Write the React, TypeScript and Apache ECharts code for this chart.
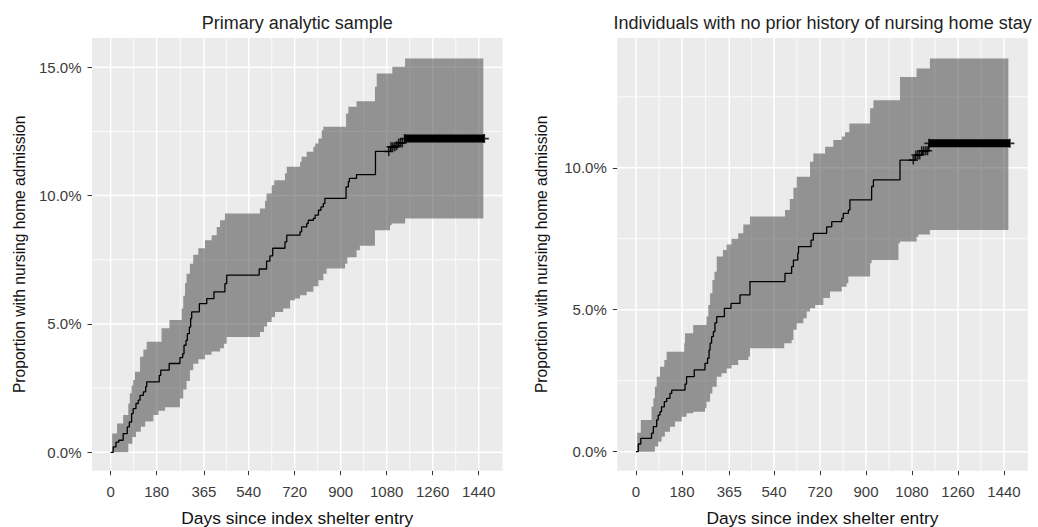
import React, { useEffect, useRef } from 'react';
import * as echarts from 'echarts';

// ---------- text ----------
const TITLES = ['Primary analytic sample', 'Individuals with no prior history of nursing home stay'];
const X_TITLE = 'Days since index shelter entry';
const Y_TITLE = 'Proportion with nursing home admission';

// ---------- ticks ----------
const X_TICKS = [0, 180, 365, 540, 720, 900, 1080, 1260, 1440];
const X_MINOR = [90, 272.5, 452.5, 630, 810, 990, 1170, 1350];
const Y_TICKS_LEFT = [0, 5, 10, 15];
const Y_MINOR_LEFT = [2.5, 7.5, 12.5];
const Y_TICKS_RIGHT = [0, 5, 10];
const Y_MINOR_RIGHT = [2.5, 7.5, 12.5];

// ---------- data: [day, percent] step points ----------
const LEFT_KM = [
  [0, 0], [10, 0.21], [21, 0.4], [32, 0.47], [49, 0.73], [65, 0.99], [73, 1.18], [82, 1.51], [88, 1.7],
  [99, 1.9], [108, 2.03], [115, 2.22], [128, 2.35], [137, 2.55], [141, 2.74], [190, 3.0], [196, 3.2],
  [229, 3.46], [271, 3.69], [282, 3.84], [287, 4.17], [295, 4.36], [300, 4.62], [308, 4.88], [313, 5.21],
  [317, 5.47], [347, 5.79], [376, 5.99], [404, 6.25], [447, 6.57], [454, 6.9], [581, 7.14], [610, 7.45],
  [623, 7.65], [634, 7.95], [682, 8.2], [689, 8.46], [741, 8.59], [747, 8.78], [767, 8.91], [773, 9.04],
  [793, 9.11], [800, 9.24], [813, 9.43], [823, 9.56], [832, 9.69], [838, 9.89], [921, 10.34], [930, 10.54],
  [934, 10.67], [962, 10.82], [1036, 11.72], [1095, 11.9], [1125, 12.05], [1150, 12.22], [1462, 12.22],
];
const LEFT_UPPER = [
  [0, 0], [6, 0.73], [25, 1.12], [49, 1.45], [69, 1.9], [75, 2.3], [82, 2.6], [88, 2.82], [95, 3.14],
  [115, 3.72], [128, 4.0], [141, 4.31], [199, 4.83], [230, 5.15], [278, 5.6], [284, 6.1], [291, 6.6],
  [297, 6.96], [310, 7.35], [323, 7.7], [343, 7.95], [369, 8.26], [395, 8.46], [415, 8.78], [428, 9.04],
  [447, 9.3], [584, 9.5], [604, 9.8], [610, 10.08], [630, 10.4], [640, 10.6], [682, 10.86], [689, 11.12],
  [741, 11.32], [747, 11.51], [767, 11.71], [793, 11.9], [800, 12.03], [813, 12.22], [826, 12.55],
  [832, 12.68], [921, 13.2], [930, 13.46], [962, 13.68], [1034, 14.24], [1041, 14.76], [1102, 15.02],
  [1152, 15.34], [1458, 15.34],
];
const LEFT_LOWER = [
  [0, 0], [69, 0.33], [85, 0.6], [99, 0.8], [118, 1.0], [135, 1.2], [167, 1.45], [187, 1.62], [213, 1.75],
  [271, 2.1], [284, 2.45], [297, 2.78], [310, 3.2], [323, 3.45], [343, 3.62], [369, 3.8], [395, 3.93],
  [428, 4.05], [443, 4.23], [454, 4.49], [584, 4.69], [600, 4.9], [612, 5.08], [630, 5.27], [643, 5.47],
  [675, 5.6], [702, 5.92], [721, 5.99], [741, 6.12], [767, 6.25], [793, 6.47], [813, 6.7], [832, 6.96],
  [845, 7.16], [917, 7.35], [926, 7.6], [962, 7.87], [975, 8.05], [1034, 8.65], [1093, 8.85], [1099, 8.91],
  [1152, 9.11], [1458, 9.11],
];
const LEFT_CENSOR = [
  [1088, 11.72], [1097, 11.9], [1104, 11.9], [1112, 11.9], [1119, 11.95], [1127, 12.05], [1134, 12.05],
  [1141, 12.05], [1150, 12.22], [1462, 12.22],
];
const LEFT_DENSE_CENSOR = [[1150, 12.22], [1462, 12.22]];

const RIGHT_KM = [
  [0, 0], [9, 0.27], [19, 0.47], [61, 0.65], [68, 0.88], [81, 1.12], [87, 1.29], [94, 1.41], [100, 1.58],
  [111, 1.76], [120, 1.88], [133, 2.05], [140, 2.17], [192, 2.38], [198, 2.64], [228, 2.88], [270, 3.11],
  [280, 3.29], [286, 3.58], [290, 3.82], [296, 4.05], [303, 4.23], [309, 4.54], [316, 4.76], [346, 5.05],
  [372, 5.22], [407, 5.52], [446, 5.99], [583, 6.28], [609, 6.52], [616, 6.75], [633, 6.99], [636, 7.22],
  [685, 7.45], [694, 7.69], [746, 7.92], [766, 8.1], [805, 8.22], [811, 8.39], [831, 8.51], [837, 8.87],
  [922, 9.34], [929, 9.57], [1033, 10.27], [1092, 10.45], [1120, 10.6], [1146, 10.86], [1463, 10.86],
];
const RIGHT_UPPER = [
  [0, 0], [5, 0.67], [19, 1.12], [61, 1.58], [68, 1.88], [74, 2.29], [81, 2.64], [94, 2.99], [111, 3.23],
  [120, 3.52], [189, 3.82], [192, 4.17], [224, 4.46], [276, 4.76], [283, 5.17], [290, 5.58], [299, 6.05],
  [307, 6.34], [316, 6.87], [340, 7.1], [355, 7.3], [374, 7.5], [400, 7.69], [420, 8.0], [446, 8.28],
  [583, 8.51], [602, 8.9], [616, 9.3], [629, 9.68], [681, 10.21], [694, 10.5], [740, 10.74], [772, 10.98],
  [805, 11.1], [818, 11.25], [835, 11.56], [916, 12.1], [929, 12.38], [1033, 13.2], [1098, 13.5],
  [1150, 13.85], [1457, 13.85],
];
const RIGHT_LOWER = [
  [0, 0], [74, 0.18], [87, 0.35], [100, 0.53], [113, 0.7], [133, 0.88], [153, 1.06], [179, 1.23],
  [198, 1.35], [224, 1.41], [270, 1.53], [276, 1.76], [290, 2.05], [299, 2.29], [316, 2.64], [335, 2.76],
  [355, 2.93], [374, 3.05], [400, 3.23], [440, 3.35], [446, 3.64], [580, 3.82], [609, 3.93], [616, 4.29],
  [629, 4.52], [655, 4.7], [668, 4.94], [681, 5.05], [701, 5.17], [733, 5.41], [759, 5.64], [805, 5.81],
  [824, 5.93], [831, 6.17], [916, 6.64], [922, 6.75], [1027, 7.34], [1033, 7.4], [1098, 7.57], [1105, 7.65],
  [1150, 7.81], [1457, 7.81],
];
const RIGHT_CENSOR = [
  [1085, 10.27], [1095, 10.45], [1103, 10.45], [1110, 10.45], [1118, 10.6], [1126, 10.6], [1134, 10.6],
  [1141, 10.6], [1146, 10.86], [1463, 10.86],
];
const RIGHT_DENSE_CENSOR = [[1146, 10.86], [1463, 10.86]];

// ---------- styling / layout ----------
const FONT = '"Liberation Sans", Arial, sans-serif';
const PANEL_BG = '#EBEBEB';
const BAND_COLOR = 'rgba(66,66,66,0.52)';
const PANELS = [
  { left: 92, top: 38, width: 410.5, height: 432.7, yMin: -0.717, yMax: 16.14, yTicks: Y_TICKS_LEFT, yMinor: Y_MINOR_LEFT, nameGap: 65 },
  { left: 617.3, top: 38, width: 410.5, height: 432.7, yMin: -0.67, yMax: 14.57, yTicks: Y_TICKS_RIGHT, yMinor: Y_MINOR_RIGHT, nameGap: 68 },
];
const X_MIN = -73;
const X_MAX = 1533;

function stepPoints(arr: number[][]) {
  const pts: number[][] = [];
  arr.forEach((p, i) => {
    if (i > 0) pts.push([p[0], arr[i - 1][1]]);
    pts.push([p[0], p[1]]);
  });
  return pts;
}

const PLUS = 'path://M0,5L10,5M5,0L5,10';

export default function App() {
  const ref = useRef<HTMLDivElement>(null);
  useEffect(() => {
    if (!ref.current) return;
    const chart = echarts.init(ref.current, null, { renderer: 'svg' });
    const sets = [
      { km: LEFT_KM, up: LEFT_UPPER, lo: LEFT_LOWER, cen: LEFT_CENSOR, dense: LEFT_DENSE_CENSOR },
      { km: RIGHT_KM, up: RIGHT_UPPER, lo: RIGHT_LOWER, cen: RIGHT_CENSOR, dense: RIGHT_DENSE_CENSOR },
    ];
    const series: any[] = [];
    sets.forEach((s, i) => {
      const P = PANELS[i];
      series.push({
        type: 'custom', xAxisIndex: i, yAxisIndex: i, silent: true, z: 1,
        data: [[0, 0]],
        renderItem: (params: any, api: any) => {
          const cs = params.coordSys;
          const children: any[] = [];
          const vline = (v: number, w: number) => {
            const x = api.coord([v, 0])[0];
            children.push({ type: 'line', shape: { x1: x, y1: cs.y, x2: x, y2: cs.y + cs.height }, style: { stroke: '#fff', lineWidth: w } });
          };
          const hline = (v: number, w: number) => {
            const y = api.coord([0, v])[1];
            children.push({ type: 'line', shape: { x1: cs.x, y1: y, x2: cs.x + cs.width, y2: y }, style: { stroke: '#fff', lineWidth: w } });
          };
          X_MINOR.forEach((v) => vline(v, 0.8));
          P.yMinor.forEach((v) => hline(v, 0.8));
          X_TICKS.forEach((v) => vline(v, 1.5));
          P.yTicks.forEach((v) => hline(v, 1.5));
          return { type: 'group', children };
        },
      });
      const poly = [...stepPoints(s.up), ...stepPoints(s.lo).reverse()];
      series.push({
        type: 'custom', xAxisIndex: i, yAxisIndex: i, silent: true, z: 2,
        data: [[0, 0]],
        renderItem: (_params: any, api: any) => ({
          type: 'polygon',
          shape: { points: poly.map((p) => api.coord(p)) },
          style: { fill: BAND_COLOR },
        }),
      });
      series.push({
        type: 'line', xAxisIndex: i, yAxisIndex: i, step: 'end', data: s.km, showSymbol: false, silent: true, z: 3,
        lineStyle: { color: '#000', width: 1.3 },
      });
      series.push({
        type: 'line', xAxisIndex: i, yAxisIndex: i, data: s.dense, showSymbol: false, silent: true, z: 4,
        lineStyle: { color: '#000', width: 8, cap: 'butt' },
      });
      series.push({
        type: 'scatter', xAxisIndex: i, yAxisIndex: i, data: s.cen, symbol: PLUS, symbolSize: 9, silent: true, z: 5,
        itemStyle: { color: 'none', borderColor: '#000', borderWidth: 1.6 },
      });
    });

    chart.setOption({
      animation: false,
      textStyle: { fontFamily: FONT },
      title: TITLES.map((t, i) => ({
        text: t, left: PANELS[i].left + PANELS[i].width / 2, top: 14, textAlign: 'center', padding: 0,
        textStyle: { fontFamily: FONT, fontSize: 18, fontWeight: 'normal', color: '#222' },
      })),
      grid: PANELS.map((P) => ({
        left: P.left, top: P.top, width: P.width, height: P.height, show: true,
        backgroundColor: PANEL_BG, borderWidth: 0, containLabel: false, outerBoundsMode: 'none',
      })),
      xAxis: PANELS.map((_P, i) => ({
        type: 'value', gridIndex: i, min: X_MIN, max: X_MAX,
        axisLine: { show: false, onZero: false }, splitLine: { show: false },
        axisTick: { show: true, customValues: X_TICKS, length: 4.5, lineStyle: { color: '#333', width: 1 } },
        axisLabel: { customValues: X_TICKS, margin: 13, fontSize: 15, color: '#3c3c3c', fontFamily: FONT, formatter: (v: number) => String(v) },
        name: X_TITLE, nameLocation: 'middle', nameGap: 39,
        nameTextStyle: { fontSize: 17.4, color: '#111', fontFamily: FONT },
      })),
      yAxis: PANELS.map((P, i) => ({
        type: 'value', gridIndex: i, min: P.yMin, max: P.yMax,
        axisLine: { show: false, onZero: false }, splitLine: { show: false },
        axisTick: { show: true, customValues: P.yTicks, length: 4.5, lineStyle: { color: '#333', width: 1 } },
        axisLabel: { customValues: P.yTicks, margin: 10.5, fontSize: 15, color: '#3c3c3c', fontFamily: FONT, formatter: (v: number) => v.toFixed(1) + '%' },
        name: Y_TITLE, nameLocation: 'middle', nameGap: P.nameGap,
        nameTextStyle: { fontSize: 15.6, color: '#111', fontFamily: FONT },
      })),
      series,
    });
    return () => chart.dispose();
  }, []);
  return <div ref={ref} style={{ position: 'fixed', left: 0, top: 0, width: 1038, height: 527, background: '#fff' }} />;
}
